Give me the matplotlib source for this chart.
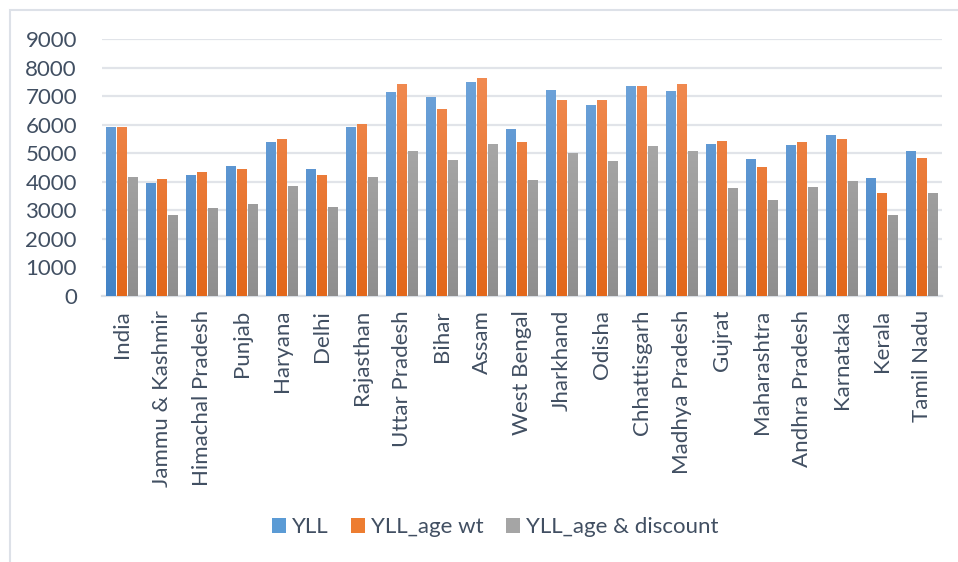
import matplotlib
matplotlib.use("Agg")
import matplotlib.pyplot as plt
import numpy as np
from matplotlib.patches import Rectangle, Patch
from matplotlib.colors import LinearSegmentedColormap

categories = ["India", "Jammu & Kashmir", "Himachal Pradesh", "Punjab", "Haryana",
              "Delhi", "Rajasthan", "Uttar Pradesh", "Bihar", "Assam", "West Bengal",
              "Jharkhand", "Odisha", "Chhattisgarh", "Madhya Pradesh", "Gujrat",
              "Maharashtra", "Andhra Pradesh", "Karnataka", "Kerala", "Tamil Nadu"]
yll = [5910, 3950, 4230, 4540, 5390, 4440, 5910, 7140, 6960, 7490, 5840,
       7210, 6680, 7350, 7170, 5320, 4790, 5280, 5630, 4120, 5070]
yll_age_wt = [5910, 4090, 4330, 4440, 5490, 4230, 6020, 7420, 6540, 7630, 5390,
              6860, 6860, 7350, 7420, 5420, 4510, 5390, 5490, 3600, 4820]
yll_age_disc = [4160, 2830, 3070, 3210, 3840, 3110, 4160, 5070, 4750, 5320, 4050,
                5000, 4720, 5250, 5070, 3770, 3350, 3810, 4020, 2830, 3600]
series_names = ["YLL", "YLL_age wt", "YLL_age & discount"]
yticks = list(range(0, 9001, 1000))

plt.rcParams['font.family'] = ['Lato', 'DejaVu Sans']
text_color = '#414F62'
fs = 16

W, H = 958, 562
fig = plt.figure(figsize=(W / 100, H / 100), dpi=100)
ax = fig.add_axes([102 / W, 1 - 296 / H, (942 - 102) / W, (296 - 39) / H])

# outer frame
fig.patches.append(Rectangle((10 / W, -0.1), 1.2, 1 - 10 / H + 0.1, transform=fig.transFigure,
                             fill=False, edgecolor='#DDE1E8', linewidth=1.5, zorder=0))

grads = [('#76A9DD', '#4383C6'), ('#F3915C', '#E3681A'), ('#B8B8B8', '#8E8E8E')]
solid = ['#5B9BD5', '#ED7D31', '#A5A5A5']
x = np.arange(len(categories))
offsets = [-0.275, 0.0, 0.275]
width = 0.25
grad_img = np.linspace(0, 1, 256).reshape(-1, 1)

for vals, off, (top, bot), sc in zip([yll, yll_age_wt, yll_age_disc], offsets, grads, solid):
    bars = ax.bar(x + off, vals, width, color=sc, zorder=2, linewidth=0)
    cmap = LinearSegmentedColormap.from_list('g', [bot, top])
    for b in bars:
        bx = b.get_x()
        bw = b.get_width()
        im = ax.imshow(grad_img, extent=[bx, bx + bw, 0, 9000], origin='lower',
                       aspect='auto', cmap=cmap, zorder=3, interpolation='bilinear')
        im.set_clip_path(b)

ax.set_xlim(-0.5, len(categories) - 0.5)
ax.set_ylim(0, 9000)
ax.set_yticks(yticks)
ax.set_yticklabels([str(t) for t in yticks])
ax.set_xticks(x)
ax.set_xticklabels(categories, rotation=90)
ax.tick_params(axis='y', length=0, pad=18, labelsize=fs, labelcolor=text_color)
ax.tick_params(axis='x', length=0, pad=10, labelsize=fs, labelcolor=text_color)
ax.grid(axis='y', color='#E1E4E9', linewidth=1.6, zorder=0)
ax.set_axisbelow(True)
for s in ['top', 'right', 'left']:
    ax.spines[s].set_visible(False)
ax.spines['bottom'].set_color('#D9DDE3')
ax.spines['bottom'].set_linewidth(1.6)

handles = [Patch(facecolor=c, edgecolor='none') for c in solid]
fig.legend(handles, series_names, loc='center', bbox_to_anchor=(495 / W, 1 - 527 / H),
           ncol=3, frameon=False, fontsize=fs, labelcolor=text_color,
           handlelength=0.65, handleheight=0.65, handletextpad=0.25, columnspacing=1.0)

fig.savefig('out.png', dpi=100)
